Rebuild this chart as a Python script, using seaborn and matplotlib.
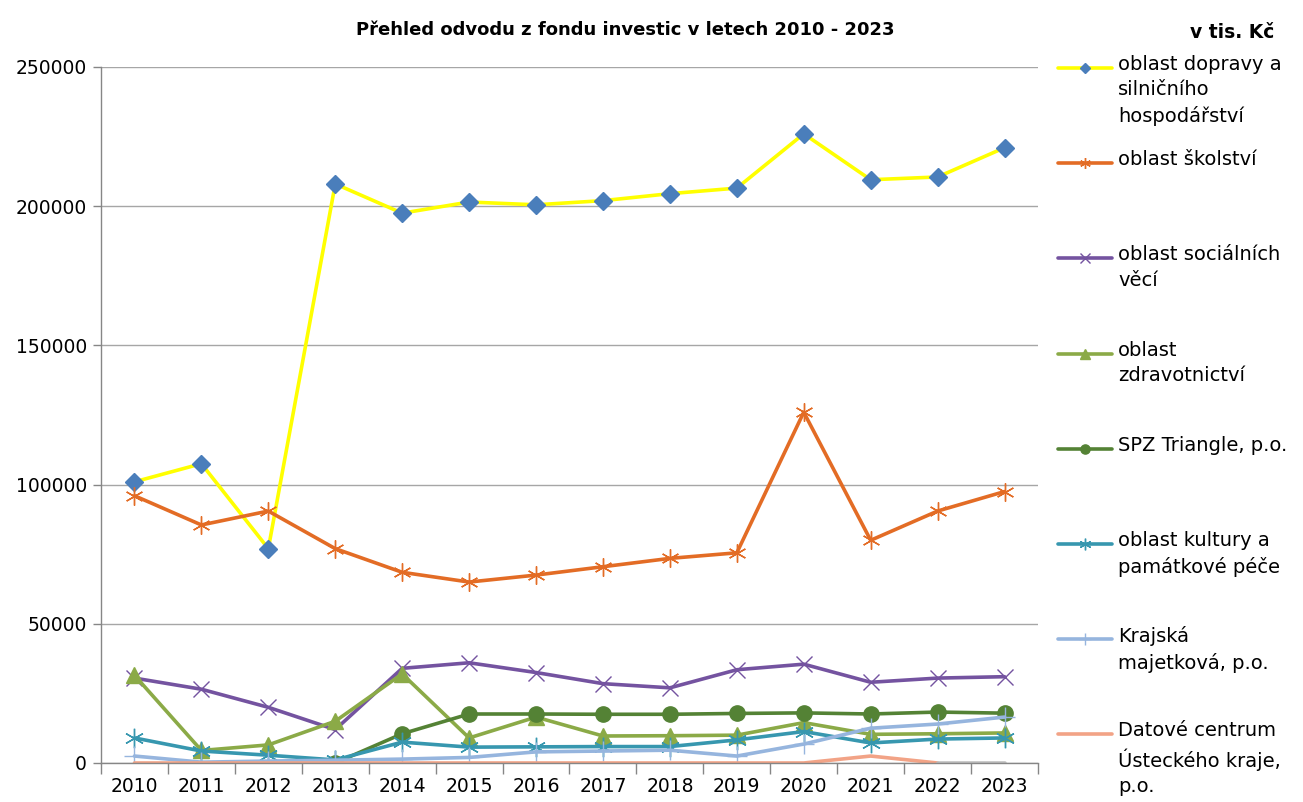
import matplotlib.pyplot as plt
import numpy as np
import pandas as pd
import seaborn as sns
from matplotlib.lines import Line2D
from matplotlib.ticker import FixedLocator

ROKY = list(range(2010, 2024))

DOPRAVA = [101000, 107500, 77000, 208000, 197500, 201500, 200500, 202000, 204500, 206500, 226000, 209500, 210500, 221000]
SKOLSTVI = [96000, 85500, 90500, 77000, 68500, 65000, 67500, 70500, 73500, 75500, 126000, 80000, 90500, 97500]
SOCIALNI = [30500, 26500, 20000, 12000, 34000, 36000, 32500, 28500, 27000, 33500, 35500, 29000, 30500, 31000]
ZDRAVOTNICTVI = [31500, 4500, 6500, 15000, 32000, 9000, 16500, 9700, 9800, 10000, 14500, 10300, 10500, 10800]
SPZ_TRIANGLE = [np.nan, np.nan, np.nan, 0, 10500, 17600, 17600, 17500, 17500, 17800, 18000, 17600, 18300, 17900]
KULTURA = [9000, 4300, 2800, 1100, 7500, 5700, 5800, 5900, 5900, 8300, 11300, 7200, 8600, 9000]
KRAJSKA_MAJ = [2500, 300, 700, 1000, 1400, 2000, 4000, 4300, 4600, 2500, 6800, 12500, 14000, 16500]
DATOVE_CENTRUM = [0, 0, 0, 0, 0, 0, 0, 0, 0, 0, 0, 2500, 0, np.nan]
OSTATNI = [np.nan] * 12 + [0, 0]

SERIE = [
    ("oblast dopravy a\nsilničního\nhospodářství", DOPRAVA),
    ("oblast školství", SKOLSTVI),
    ("oblast sociálních\nvěcí", SOCIALNI),
    ("oblast\nzdravotnictví", ZDRAVOTNICTVI),
    ("SPZ Triangle, p.o.", SPZ_TRIANGLE),
    ("oblast kultury a\npamátkové péče", KULTURA),
    ("Krajská\nmajetková, p.o.", KRAJSKA_MAJ),
    ("Datové centrum\nÚsteckého kraje,\np.o.", DATOVE_CENTRUM),
]

STAR = (6, 2, 0)
STYLY = [
    dict(color="#FFFF00", marker="D", mfc="#4A7EBB", mec="#4A7EBB", ms=9, mew=1),
    dict(color="#E36C25", marker=STAR, mfc="#E36C25", mec="#E36C25", ms=13, mew=1),
    dict(color="#7453A0", marker="x", mfc="#7453A0", mec="#7453A0", ms=11, mew=1),
    dict(color="#8BAA47", marker="^", mfc="#8BAA47", mec="#8BAA47", ms=12, mew=1),
    dict(color="#548235", marker="o", mfc="#548235", mec="#548235", ms=11, mew=1),
    dict(color="#3797AF", marker=STAR, mfc="#3797AF", mec="#3797AF", ms=14, mew=1),
    dict(color="#96B5DE", marker="+", mfc="#96B5DE", mec="#96B5DE", ms=14, mew=1),
    dict(color="#F2A386", marker=None, mfc="#F2A386", mec="#F2A386", ms=0, mew=0),
]

sns.set_style("white")
plt.rcParams["font.family"] = ["DejaVu Sans"]
plt.rcParams["text.color"] = "black"
plt.rcParams["xtick.color"] = "black"
plt.rcParams["ytick.color"] = "black"

fig = plt.figure(figsize=(13.03, 8.02), dpi=100)
ax = fig.add_axes([101 / 1303, 1 - 763 / 802, (1038 - 101) / 1303, (763 - 67) / 802])

x = np.arange(len(ROKY))
for (nazev, hodnoty), st in zip(SERIE, STYLY):
    df = pd.DataFrame({"x": x, "y": hodnoty}).dropna()
    sns.lineplot(
        data=df, x="x", y="y", ax=ax, color=st["color"], linewidth=2.6,
        marker=st["marker"], markersize=st["ms"], markerfacecolor=st["mfc"],
        markeredgecolor=st["mec"], markeredgewidth=st["mew"], legend=False,
    )

df_ost = pd.DataFrame({"x": x, "y": OSTATNI}).dropna()
sns.lineplot(data=df_ost, x="x", y="y", ax=ax, color="#BFBFBF", linewidth=2.6, legend=False)

ax.set_xlim(-0.5, len(ROKY) - 0.5)
ax.set_ylim(0, 250000)
ax.set_yticks(range(0, 250001, 50000))
ax.set_yticklabels([str(v) for v in range(0, 250001, 50000)], fontsize=13.5)
ax.set_xticks(x)
ax.set_xticklabels([str(r) for r in ROKY], fontsize=13.5)
ax.xaxis.set_minor_locator(FixedLocator(np.arange(-0.5, len(ROKY), 1)))
ax.tick_params(axis="x", which="major", length=0, pad=10)
ax.tick_params(axis="x", which="minor", length=8, color="#868686", width=1, bottom=True)
ax.tick_params(axis="y", length=6, color="#868686", width=1, left=True, pad=4)
ax.grid(axis="y", color="#A6A6A6", linewidth=1)
ax.set_axisbelow(True)
for s in ["top", "right"]:
    ax.spines[s].set_visible(False)
for s in ["left", "bottom"]:
    ax.spines[s].set_color("#868686")
    ax.spines[s].set_linewidth(1)
ax.set_xlabel("")
ax.set_ylabel("")

fig.text(625 / 1303, 1 - 30 / 802, "Přehled odvodu z fondu investic v letech 2010 - 2023",
         ha="center", va="center", fontsize=13, fontweight="bold")
fig.text(1232 / 1303, 1 - 32 / 802, "v tis. Kč", ha="center", va="center",
         fontsize=13.5, fontweight="bold")

# legenda ve stylu Excelu: pevne sloty po ~95 px
for i, ((nazev, _), st) in enumerate(zip(SERIE, STYLY)):
    y_px = 68 + i * 95.2
    yf = 1 - y_px / 802
    fig.add_artist(Line2D([1058 / 1303, 1112 / 1303], [yf, yf], color=st["color"], linewidth=2.6,
                          transform=fig.transFigure))
    if st["marker"] is not None:
        fig.add_artist(Line2D([1085 / 1303], [yf], marker=st["marker"], markersize=st["ms"] * 0.6,
                              markerfacecolor=st["mfc"], markeredgecolor=st["mec"],
                              markeredgewidth=st["mew"], linestyle="none",
                              transform=fig.transFigure))
    fig.text(1118 / 1303, 1 - (y_px - 13) / 802, nazev, ha="left", va="top",
             fontsize=14, linespacing=1.42)

fig.savefig("out.png", dpi=100)
